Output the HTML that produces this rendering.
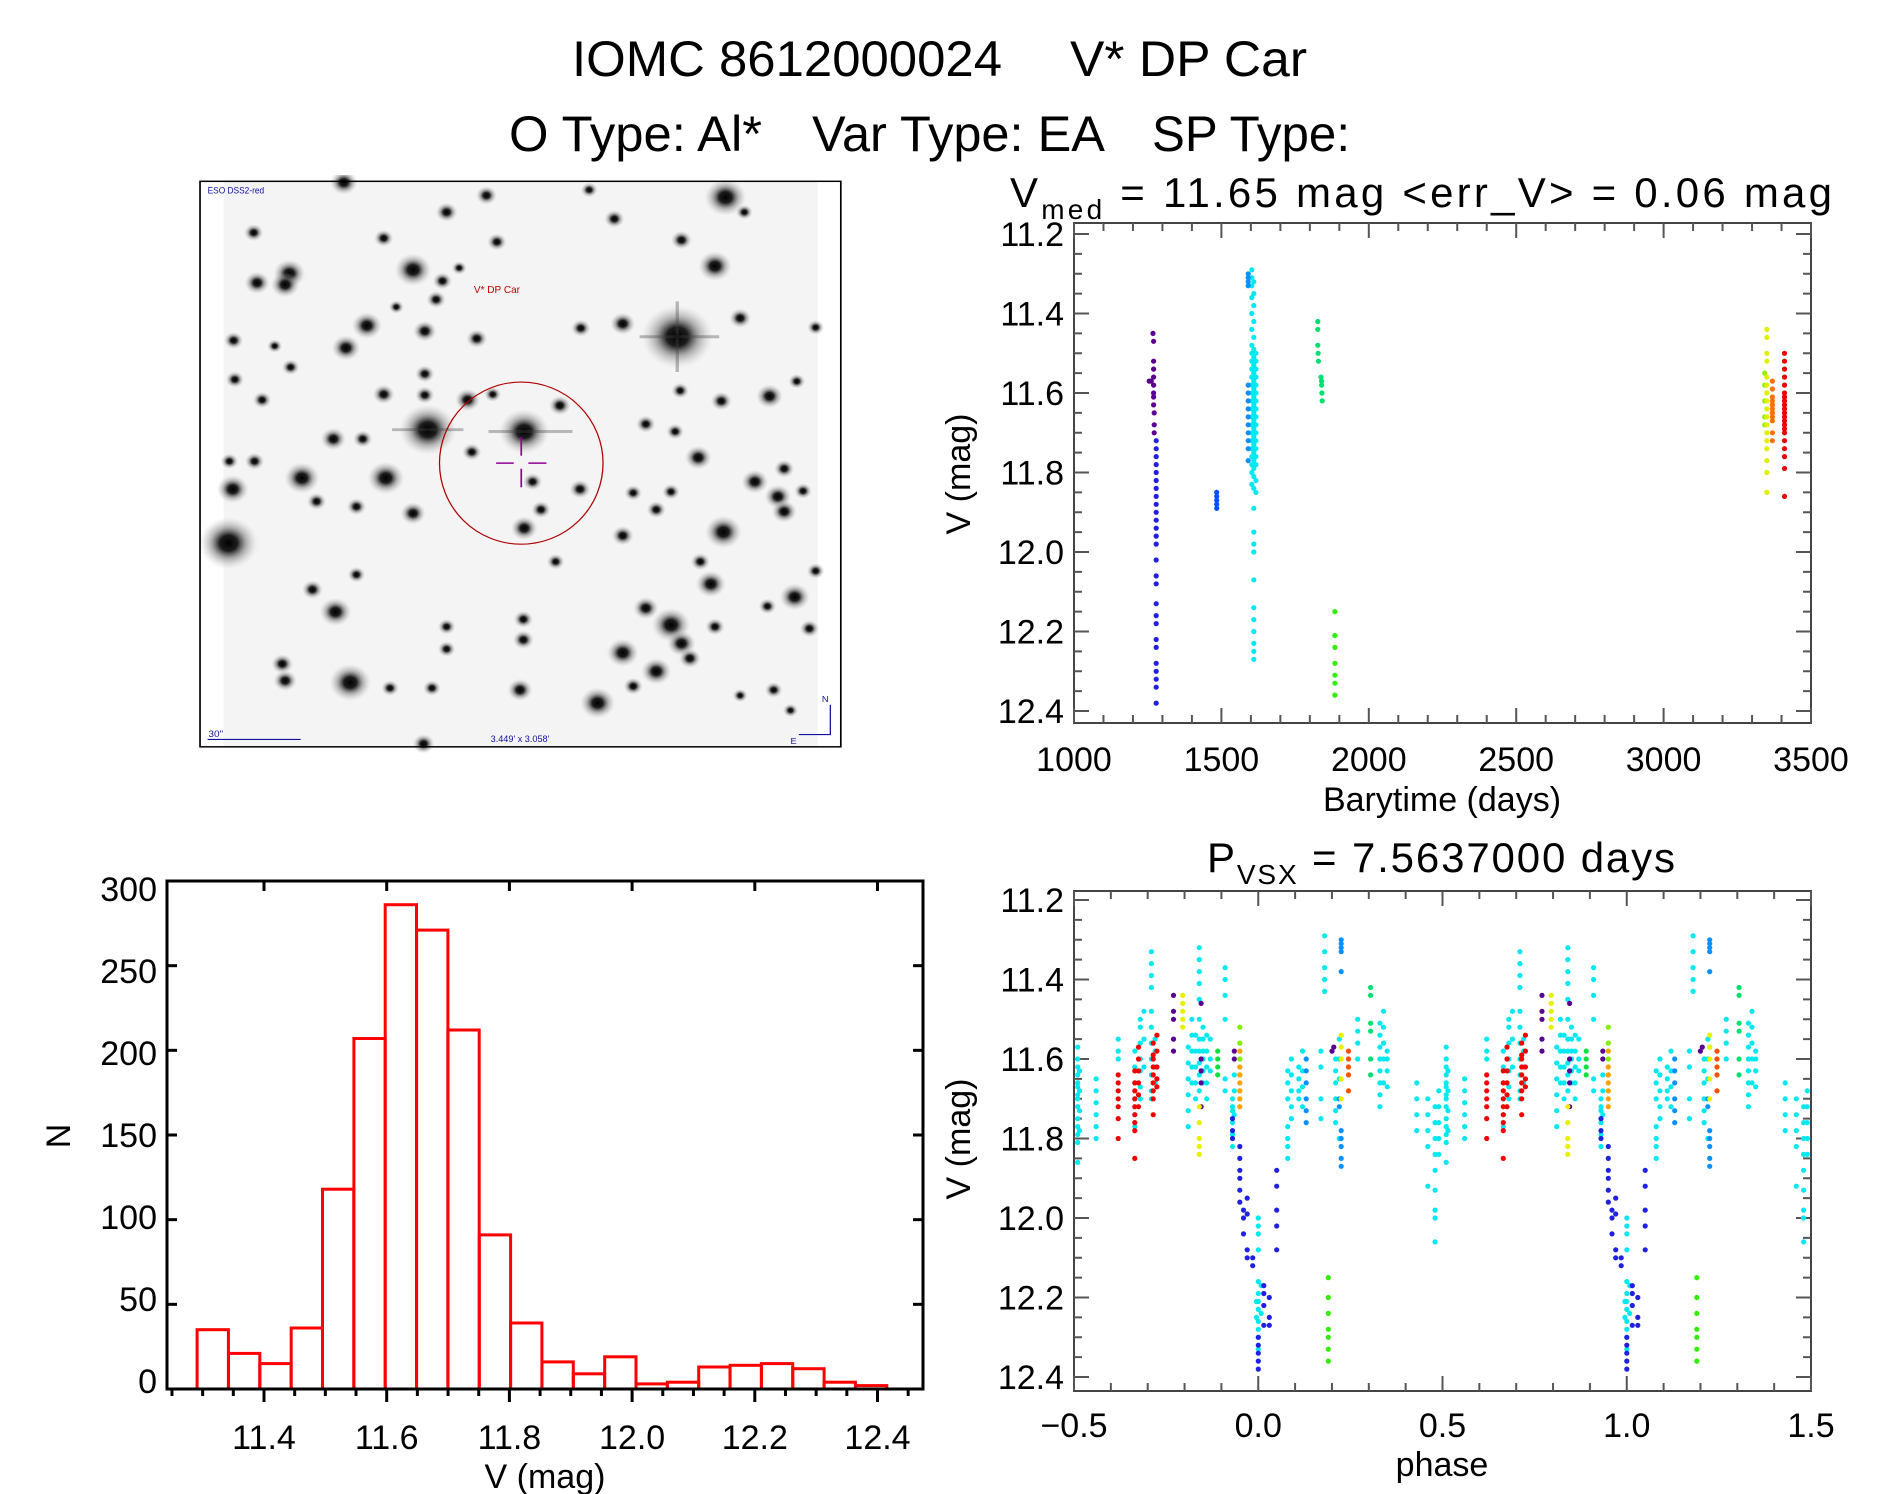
<!DOCTYPE html>
<html><head><meta charset="utf-8">
<style>
html,body{margin:0;padding:0;background:#fff;}
svg{display:block;font-family:"Liberation Sans",sans-serif;}
text{fill:#000;}
</style></head>
<body>
<svg id="fig" width="1889" height="1494" viewBox="0 0 1889 1494" xmlns="http://www.w3.org/2000/svg">
<defs>
<radialGradient id="starg">
<stop offset="0" stop-color="#000" stop-opacity="1"/>
<stop offset="0.3" stop-color="#111" stop-opacity="0.95"/>
<stop offset="0.6" stop-color="#666" stop-opacity="0.5"/>
<stop offset="1" stop-color="#bbb" stop-opacity="0"/>
</radialGradient>
<clipPath id="clipTop"><rect x="1074" y="223" width="737" height="500"/></clipPath>
<clipPath id="clipPh"><rect x="1074" y="891" width="737" height="500"/></clipPath>
</defs>

<g font-size="50">
<text x="572" y="76" textLength="430" lengthAdjust="spacingAndGlyphs">IOMC 8612000024</text>
<text x="1070" y="76" textLength="237" lengthAdjust="spacingAndGlyphs">V* DP Car</text>
<text x="509" y="151" textLength="253" lengthAdjust="spacingAndGlyphs">O Type: Al*</text>
<text x="812" y="151" textLength="293" lengthAdjust="spacingAndGlyphs">Var Type: EA</text>
<text x="1152" y="151" textLength="198" lengthAdjust="spacingAndGlyphs">SP Type:</text>
</g>

<g>
<svg id="sky" x="195" y="175" width="650" height="580" viewBox="0 0 1550 1560" preserveAspectRatio="none">
<rect x="68" y="17" width="1417" height="1521" fill="#f4f4f4"/>
<g id="stars"></g>
<rect x="12" y="17" width="1528" height="1521" fill="none" stroke="#000" stroke-width="4"/>
<ellipse cx="778" cy="775" rx="195" ry="218" fill="none" stroke="#b00000" stroke-width="3"/>
<g stroke="#900090" stroke-width="4">
<line x1="718" y1="775" x2="760" y2="775"/><line x1="795" y1="775" x2="838" y2="775"/>
<line x1="778" y1="705" x2="778" y2="755"/><line x1="778" y1="790" x2="778" y2="840"/>
</g>
<text x="665" y="318" font-size="26" style="fill:#c00000" textLength="110" lengthAdjust="spacingAndGlyphs">V* DP Car</text>
<text x="30" y="50" font-size="24" style="fill:#1010a0" textLength="135" lengthAdjust="spacingAndGlyphs">ESO DSS2-red</text>
<text x="32" y="1512" font-size="24" style="fill:#1010a0">30"</text>
<line x1="30" y1="1518" x2="252" y2="1518" stroke="#1010a0" stroke-width="3"/>
<text x="705" y="1525" font-size="24" style="fill:#1010a0" textLength="140" lengthAdjust="spacingAndGlyphs">3.449' x 3.058'</text>
<g stroke="#1010a0" stroke-width="3" fill="none">
<polyline points="1440,1505 1515,1505 1515,1425"/>
</g>
<text x="1495" y="1418" font-size="22" style="fill:#1010a0">N</text>
<text x="1420" y="1530" font-size="22" style="fill:#1010a0">E</text>
</svg>
</g>

<g id="topPlot"></g>
<g id="phPlot"></g>
<g id="histPlot"></g>
</svg>

<script>
// ---------------- Light curve data (Barytime days, V mag) ----------------
const lcPurpleT = [1255,1262,1268,1270,1270,1270,1270,1270,1270,1270,1270,1272,1272,1272];
const lcPurpleV = [11.57,11.57,11.45,11.47,11.52,11.54,11.56,11.58,11.60,11.61,11.63,11.65,11.68,11.70];
const lcBlueV = [11.72,11.74,11.76,11.78,11.80,11.82,11.84,11.86,11.88,11.90,11.92,11.94,11.96,11.98,12.02,12.06,12.08,12.13,12.16,12.18,12.22,12.24,12.28,12.30,12.32,12.34,12.38];
const lcBlueT = 1279;
const lcBlue2V = [11.85,11.86,11.87,11.88,11.89];
const lcBlue2T = 1484;
const lcSkyV = [11.30,11.31,11.32,11.33,11.58,11.60,11.62,11.64,11.66,11.68,11.70,11.72,11.74,11.77];
const lcSkyT = 1591;
const lcCyanA = [11.29,11.31,11.33,11.36,11.40,11.44,11.48,11.50,11.52,11.54,11.56,11.58,11.60,11.62,11.64,11.66,11.68,11.70,11.72,11.74,11.76,11.78,11.80,11.83];
const lcCyanB = [11.32,11.35,11.38,11.42,11.46,11.49,11.51,11.53,11.55,11.57,11.59,11.61,11.63,11.65,11.67,11.69,11.71,11.73,11.75,11.77,11.79,11.81,11.84,11.89,11.95,11.98,12.00,12.07,12.14,12.17,12.20,12.23,12.25,12.27];
const lcCyanC = [11.50,11.52,11.54,11.56,11.58,11.60,11.62,11.64,11.66,11.68,11.70,11.72,11.74,11.76,11.78,11.82,11.85];
const lcCyanT = [1603,1610,1617];
const lcGreenAT = [1827,1827,1827,1828,1829,1838,1840,1840,1841,1842];
const lcGreenAV = [11.42,11.44,11.48,11.50,11.52,11.56,11.57,11.58,11.60,11.62];
const lcGreenBV = [12.15,12.21,12.24,12.28,12.31,12.33,12.36];
const lcGreenBT = 1885;
const lcYellowV = [11.44,11.46,11.50,11.52,11.56,11.58,11.60,11.62,11.64,11.66,11.68,11.70,11.72,11.74,11.77,11.80,11.85];
const lcYellowT = 3350;
const lcYGreenV = [11.55,11.58,11.62,11.66,11.68];
const lcYGreenT = 3343;
const lcOrangeV = [11.57,11.59,11.61,11.62,11.63,11.64,11.65,11.66,11.67,11.70,11.72];
const lcOrangeT = 3369;
const lcRedV = [11.50,11.52,11.54,11.56,11.58,11.60,11.61,11.62,11.63,11.64,11.65,11.66,11.67,11.68,11.69,11.70,11.72,11.74,11.76,11.79,11.86];
const lcRedT = 3410;

// ---------------- Phase data (phase in [-0.5,0.5), V mag) ----------------
const phCyan = [
[-0.49,11.57],[-0.49,11.60],[-0.49,11.62],[-0.49,11.64],[-0.49,11.66],[-0.49,11.67],[-0.49,11.69],[-0.49,11.70],[-0.49,11.72],[-0.49,11.75],[-0.49,11.77],[-0.49,11.79],[-0.49,11.81],[-0.49,11.86],
[-0.485,11.63],[-0.485,11.68],[-0.485,11.73],[-0.485,11.78],
[-0.44,11.65],[-0.44,11.68],[-0.44,11.71],[-0.44,11.74],[-0.44,11.77],[-0.44,11.80],
[-0.38,11.55],[-0.38,11.58],[-0.38,11.60],
[-0.335,11.58],[-0.335,11.62],[-0.335,11.66],[-0.335,11.70],[-0.335,11.74],[-0.335,11.77],
[-0.32,11.50],[-0.32,11.52],[-0.32,11.56],[-0.32,11.60],[-0.32,11.63],[-0.32,11.67],[-0.32,11.70],
[-0.31,11.48],[-0.31,11.55],[-0.31,11.62],
[-0.29,11.33],[-0.29,11.36],[-0.29,11.39],[-0.29,11.42],[-0.29,11.48],[-0.29,11.52],[-0.29,11.56],[-0.29,11.60],[-0.29,11.64],[-0.29,11.68],[-0.29,11.70],
[-0.28,11.55],[-0.28,11.58],[-0.28,11.62],[-0.28,11.66],
[-0.19,11.57],[-0.19,11.61],[-0.19,11.65],[-0.19,11.69],[-0.19,11.73],[-0.19,11.77],
[-0.18,11.50],[-0.18,11.54],[-0.18,11.58],[-0.18,11.62],[-0.18,11.66],
[-0.17,11.54],[-0.17,11.58],[-0.17,11.62],[-0.17,11.66],[-0.17,11.70],
[-0.16,11.32],[-0.16,11.35],[-0.16,11.38],[-0.16,11.41],[-0.16,11.45],[-0.16,11.50],[-0.16,11.55],[-0.16,11.58],[-0.16,11.61],[-0.16,11.64],[-0.16,11.68],
[-0.15,11.52],[-0.15,11.55],[-0.15,11.58],[-0.15,11.60],[-0.15,11.63],[-0.15,11.66],
[-0.14,11.54],[-0.14,11.58],[-0.14,11.62],[-0.14,11.66],[-0.14,11.70],
[-0.13,11.55],[-0.13,11.60],[-0.13,11.63],
[-0.09,11.37],[-0.09,11.40],[-0.09,11.44],[-0.09,11.50],[-0.09,11.65],[-0.09,11.68],
[-0.07,11.70],[-0.07,11.72],[-0.07,11.73],[-0.07,11.76],[-0.07,11.79],[-0.07,11.82],
[-0.065,11.64],[-0.065,11.68],[-0.065,11.74],
[0.0,12.00],[0.0,12.02],[0.0,12.04],[0.0,12.08],[0.0,12.16],[0.0,12.19],[0.0,12.21],[0.0,12.23],[0.0,12.26],[0.0,12.28],[0.0,12.30],[0.0,12.33],
[-0.005,12.21],[-0.005,12.25],[0.008,12.17],[0.008,12.24],
[0.08,11.63],[0.08,11.66],[0.08,11.70],[0.08,11.77],[0.08,11.80],[0.08,11.82],[0.08,11.85],
[0.09,11.60],[0.09,11.64],[0.09,11.68],[0.09,11.72],[0.09,11.75],
[0.11,11.62],[0.11,11.65],[0.11,11.68],[0.11,11.70],
[0.12,11.58],[0.12,11.63],[0.12,11.67],[0.12,11.72],
[0.17,11.58],[0.17,11.62],[0.17,11.70],[0.17,11.75],
[0.18,11.29],[0.18,11.33],[0.18,11.37],[0.18,11.40],[0.18,11.43],
[0.21,11.60],[0.21,11.63],[0.21,11.66],[0.21,11.70],[0.21,11.73],[0.21,11.76],
[0.22,11.55],[0.22,11.60],[0.22,11.65],[0.22,11.80],
[0.27,11.50],[0.27,11.53],[0.27,11.56],[0.27,11.60],
[0.33,11.51],[0.33,11.54],[0.33,11.57],[0.33,11.60],[0.33,11.63],[0.33,11.66],[0.33,11.69],[0.33,11.72],
[0.34,11.48],[0.34,11.52],[0.34,11.56],[0.34,11.60],[0.34,11.66],
[0.35,11.58],[0.35,11.60],[0.35,11.63],[0.35,11.67],
[0.43,11.66],[0.43,11.70],[0.43,11.74],[0.43,11.78],
[0.46,11.70],[0.46,11.74],[0.46,11.78],[0.46,11.82],[0.46,11.92],
[0.48,11.72],[0.48,11.76],[0.48,11.80],[0.48,11.84],[0.48,11.88],[0.48,11.93],[0.48,11.98],[0.48,12.00],[0.48,12.06],
[0.49,11.68],[0.49,11.72],[0.49,11.76],[0.49,11.80],[0.49,11.84]
];
const phRed = [
[-0.38,11.64],[-0.38,11.66],[-0.38,11.68],[-0.38,11.70],[-0.38,11.72],[-0.38,11.75],[-0.38,11.80],
[-0.335,11.63],[-0.335,11.66],[-0.335,11.68],[-0.335,11.70],[-0.335,11.72],[-0.335,11.74],[-0.335,11.76],[-0.335,11.78],[-0.335,11.85],
[-0.325,11.57],[-0.325,11.60],[-0.325,11.63],[-0.325,11.66],[-0.325,11.69],[-0.325,11.72],
[-0.285,11.56],[-0.285,11.59],[-0.285,11.60],[-0.285,11.62],[-0.285,11.64],[-0.285,11.66],[-0.285,11.68],[-0.285,11.70],[-0.285,11.74],
[-0.275,11.54],[-0.275,11.58],[-0.275,11.62],[-0.275,11.65],[-0.275,11.67]
];
const phBlue = [
[-0.07,11.75],[-0.07,11.78],[-0.07,11.80],
[-0.05,11.82],[-0.05,11.85],[-0.05,11.88],[-0.05,11.90],[-0.05,11.93],[-0.05,11.96],
[-0.04,11.98],[-0.04,12.00],[-0.04,12.04],
[-0.03,11.95],[-0.03,11.99],[-0.03,12.08],[-0.03,12.10],
[-0.015,12.10],[-0.015,12.12],
[0.0,12.30],[0.0,12.32],[0.0,12.34],[0.0,12.36],[0.0,12.38],
[0.015,12.17],[0.015,12.19],[0.015,12.22],[0.015,12.27],
[0.03,12.20],[0.03,12.25],[0.03,12.27],
[0.05,11.88],[0.05,11.92],[0.05,11.98],[0.05,12.02],[0.05,12.08]
];
const phSky = [
[0.225,11.30],[0.225,11.31],[0.225,11.32],[0.225,11.33],[0.225,11.38],[0.225,11.78],[0.225,11.80],[0.225,11.82],[0.225,11.85],[0.225,11.87],
[0.13,11.60],[0.13,11.63],[0.13,11.66],[0.13,11.70],[0.13,11.73],[0.13,11.76],
[0.22,11.70],[0.22,11.72]
];
const phPurple = [
[-0.23,11.44],[-0.23,11.48],[-0.23,11.50],[-0.23,11.55],[-0.23,11.58],
[-0.155,11.46],[-0.155,11.60],[-0.155,11.63],[-0.155,11.66],[-0.155,11.72],
[-0.065,11.58],[-0.065,11.60],[0.205,11.57],[0.2,11.58]
];
const phYellow = [
[-0.205,11.44],[-0.205,11.46],[-0.205,11.48],[-0.205,11.50],[-0.205,11.52],
[-0.16,11.72],[-0.16,11.76],[-0.16,11.80],[-0.16,11.82],[-0.16,11.84],
[0.225,11.54],[0.225,11.57],[0.225,11.60],[0.225,11.65],[0.225,11.70]
];
const phGreen = [[-0.11,11.58],[-0.11,11.60],[-0.11,11.62],[-0.11,11.64]];
const phYGreen = [[-0.05,11.52],[-0.05,11.56],[-0.05,11.60],[-0.05,11.64],[-0.05,11.68]];
const phTeal = [[0.305,11.42],[0.305,11.44],[0.305,11.51],[0.305,11.53],[0.305,11.60],[0.305,11.64]];
const phLime = [[0.19,12.15],[0.19,12.20],[0.19,12.24],[0.19,12.28],[0.19,12.30],[0.19,12.33],[0.19,12.36]];
const phOrange = [[-0.05,11.58],[-0.05,11.62],[-0.05,11.64],[-0.05,11.66],[-0.05,11.68],[-0.05,11.70],[-0.05,11.72]];
const phOrRed = [[0.245,11.58],[0.245,11.60],[0.245,11.62],[0.245,11.64],[0.245,11.68]];

// ---------------- Histogram data ----------------
const histBinStart = 11.291;
const histBinWidth = 0.0511;
const histCounts = [35,21,15,36,118,207,286,271,212,91,39,16,9,19,3,4,13,14,15,12,4,2];
const histYTicks = [0,50,100,150,200,250,300];
const histXTicks = ["11.4","11.6","11.8","12.0","12.2","12.4"];
const magTicks = ["11.2","11.4","11.6","11.8","12.0","12.2","12.4"];
const timeTicks = ["1000","1500","2000","2500","3000","3500"];
const phaseTicks = ["\u22120.5","0.0","0.5","1.0","1.5"];

// ---------------- helpers ----------------
const NS = "http://www.w3.org/2000/svg";
function mk(tag, attrs, parent){ const e=document.createElementNS(NS,tag); for(const k in attrs) e.setAttribute(k,attrs[k]); if(parent) parent.appendChild(e); return e; }
function txt(parent, x, y, s, size, anchor, name){
  const t=mk('text',{x:x,y:y,'font-size':size,'text-anchor':anchor||'middle'},parent);
  t.textContent=s;
  
  
  return t;
}
function numTick(s){ return parseFloat(s.replace('\u2212','-')); }

const L=1074, R=1811;
const magTopPx=234, magBotPx=711;
function yTop(v){ return magTopPx + (v-11.2)/1.2*(magBotPx-magTopPx); }
function yPh(v){ return yTop(v)+666; }
function xTime(t){ return L + (t-1000)/2500*(R-L); }
function xPh(p){ return L + (p+0.5)/2*(R-L); }

function frameAndTicks(g, top, bot, yMap, xMajors, xMinorStep, xMin, xMax, xMap, yLabels){
  const fr=mk('rect',{x:L,y:top,width:R-L,height:bot-top,fill:'none',stroke:'#444','stroke-width':2},g);
  
  
  const tg=mk('g',{stroke:'#555','stroke-width':2},g);
  for(let v=11.2; v<=12.401; v+=0.05){
    const y=yMap(v); const major=Math.abs((v-11.2)/0.2-Math.round((v-11.2)/0.2))<0.01;
    const len=major?15:8;
    mk('line',{x1:L,y1:y,x2:L+len,y2:y},tg); mk('line',{x1:R,y1:y,x2:R-len,y2:y},tg);
  }
  for(let v=xMin; v<=xMax+1e-9; v+=xMinorStep){
    const x=xMap(v); const major=xMajors.some(m=>Math.abs(m-v)<1e-6);
    const len=major?15:8;
    mk('line',{x1:x,y1:bot,x2:x,y2:bot-len},tg); mk('line',{x1:x,y1:top,x2:x,y2:top+len},tg);
  }
  yLabels.forEach(s=>{ txt(g, 1064, yMap(parseFloat(s))+12, s, 34, 'end', 'y-tick-label'); });
}
function dots(g, pts, color, name){
  const dg=mk('g',{fill:color},g);
  
  
  pts.forEach(p=>{ mk('circle',{cx:p[0].toFixed(1),cy:p[1].toFixed(1),r:2.6},dg); });
}

// ---------------- top light-curve plot ----------------
(function(){
  const g=document.getElementById('topPlot');
  frameAndTicks(g,223,723,yTop,timeTicks.map(numTick),100,1000,3500,xTime,magTicks);
  timeTicks.forEach(s=>txt(g,xTime(numTick(s)),771,s,34,'middle','x-tick-label'));
  txt(g,1442,811,'Barytime (days)',34,'middle','x-axis-title');
  const yt=txt(g,0,0,'V (mag)',34,'middle','y-axis-title'); yt.setAttribute('transform','translate(970,474) rotate(-90)');
  const tt=mk('text',{x:1010,y:207,'font-size':42,textLength:822,lengthAdjust:'spacing'},g);
  
  
  tt.innerHTML='V<tspan font-size="28" dy="12">med</tspan><tspan dy="-12">  =  11.65  mag  &lt;err_V&gt;  =  0.06  mag</tspan>';
  const c=mk('g',{'clip-path':'url(#clipTop)'},g);
  const P=(ts,vs)=>vs.map((v,i)=>[xTime(Array.isArray(ts)?ts[i]:ts),yTop(v)]);
  dots(c,P(lcPurpleT,lcPurpleV),'#5a0090','series-purple');
  dots(c,P(lcBlueT,lcBlueV),'#2020e0','series-blue');
  dots(c,P(lcBlue2T,lcBlue2V),'#0050ff','series-blue2');
  dots(c,P(lcCyanT[0],lcCyanA),'#00e8f0','series-cyan-a');
  dots(c,P(lcCyanT[1],lcCyanB),'#00e8f0','series-cyan-b');
  dots(c,P(lcCyanT[2],lcCyanC),'#00e8f0','series-cyan-c');
  dots(c,P(lcSkyT,lcSkyV),'#0a90ff','series-sky');
  dots(c,P(lcGreenAT,lcGreenAV),'#00e070','series-green-a');
  dots(c,P(lcGreenBT,lcGreenBV),'#30f000','series-green-b');
  dots(c,P(lcYGreenT,lcYGreenV),'#90f000','series-yellowgreen');
  dots(c,P(lcYellowT,lcYellowV),'#e0f000','series-yellow');
  dots(c,P(lcOrangeT,lcOrangeV),'#ff7000','series-orange');
  dots(c,P(lcRedT,lcRedV),'#f00000','series-red');
})();

// ---------------- phase plot ----------------
(function(){
  const g=document.getElementById('phPlot');
  frameAndTicks(g,891,1391,yPh,phaseTicks.map(numTick),0.1,-0.5,1.5,xPh,magTicks);
  phaseTicks.forEach(s=>txt(g,xPh(numTick(s)),1437,s,34,'middle','x-tick-label'));
  txt(g,1442,1476,'phase',34,'middle','x-axis-title');
  const yt=txt(g,0,0,'V (mag)',34,'middle','y-axis-title'); yt.setAttribute('transform','translate(970,1139) rotate(-90)');
  const tt=mk('text',{x:1207,y:872,'font-size':42,textLength:468,lengthAdjust:'spacing'},g);
  
  
  tt.innerHTML='P<tspan font-size="28" dy="12">VSX</tspan><tspan dy="-12">  =  7.5637000  days</tspan>';
  const c=mk('g',{'clip-path':'url(#clipPh)'},g);
  const P=arr=>{ const o=[]; arr.forEach(d=>{ o.push([xPh(d[0]),yPh(d[1])]); o.push([xPh(d[0]+1),yPh(d[1])]); }); return o; };
  dots(c,P(phCyan),'#00e8f0','phase-cyan');
  dots(c,P(phSky),'#0a90ff','phase-sky');
  dots(c,P(phBlue),'#2020e0','phase-blue');
  dots(c,P(phRed),'#f00000','phase-red');
  dots(c,P(phPurple),'#5a0090','phase-purple');
  dots(c,P(phYellow),'#e8f000','phase-yellow');
  dots(c,P(phGreen),'#10e040','phase-green');
  dots(c,P(phYGreen),'#80f000','phase-yellowgreen');
  dots(c,P(phTeal),'#00e070','phase-teal');
  dots(c,P(phLime),'#30f000','phase-lime');
  dots(c,P(phOrange),'#ffa000','phase-orange');
  dots(c,P(phOrRed),'#ff5000','phase-orangered');
})();

// ---------------- histogram ----------------
(function(){
  const g=document.getElementById('histPlot');
  const HL=167,HR=923,HT=881,HB=1389;
  const xH=v=>264+(v-11.4)/0.2*122.7;
  const yH=n=>HB-n/300*(HB-HT);
  const bars=mk('g',{fill:'none',stroke:'#f00','stroke-width':3},g);
  histCounts.forEach((n,i)=>{
    const x0=xH(histBinStart+i*histBinWidth), x1=xH(histBinStart+(i+1)*histBinWidth);
    const b=mk('rect',{x:x0.toFixed(1),y:yH(n).toFixed(1),width:(x1-x0).toFixed(1),height:(HB-yH(n)).toFixed(1)},bars);
    
    
  });
  const fr=mk('rect',{x:HL,y:HT,width:HR-HL,height:HB-HT,fill:'none',stroke:'#000','stroke-width':3},g);
  
  
  const tg=mk('g',{stroke:'#000','stroke-width':3},g);
  histYTicks.forEach(n=>{ const y=yH(n); mk('line',{x1:HL,y1:y,x2:HL+10,y2:y},tg); mk('line',{x1:HR,y1:y,x2:HR-10,y2:y},tg);
    txt(g,157,y+12+(150-n)/300*(-16),String(n),34,'end','y-tick-label'); });
  for(let v=11.25; v<=12.46; v+=0.05){
    const x=xH(v); const major=Math.abs((v-11.4)/0.2-Math.round((v-11.4)/0.2))<0.01 && v>11.3;
    mk('line',{x1:x,y1:HB,x2:x,y2:HB+(major?13:7)},tg);
    if(major) mk('line',{x1:x,y1:HT,x2:x,y2:HT+10},tg);
  }
  histXTicks.forEach(s=>txt(g,xH(parseFloat(s)),1449,s,34,'middle','x-tick-label'));
  txt(g,545,1488,'V (mag)',34,'middle','x-axis-title');
  const yt=txt(g,0,0,'N',34,'middle','y-axis-title'); yt.setAttribute('transform','translate(70,1136) rotate(-90)');
})();

// ---------------- star field (decorative) ----------------
(function(){
  const S=document.getElementById('stars');
  const stars=[[1150,435,85],[555,685,68],[785,690,60],[80,990,70],[1265,60,50],[520,255,44],[1240,245,40],[255,815,42],[455,815,44],[1260,960,44],[1135,1210,46],[370,1365,50],[960,1420,42],[1020,1285,38],[1100,1335,36],[1230,1100,36],[1430,1135,36],[335,1175,38],[90,845,38],[410,405,36],[360,465,34],[1370,595,32],[1200,760,32],[1335,825,32],[1390,865,32],[1405,905,30],[520,910,30],[785,950,32],[775,1385,30],[225,265,38],[215,295,34],[148,290,30],[1020,400,30],[650,605,30],[870,620,26],[450,590,26],[330,710,30],[1075,1165,30],[1160,1260,34],[1180,1300,26],[1020,970,26],[1300,385,26],[1160,175,25],[695,55,25],[1000,118,24],[548,420,28],[672,440,25],[920,412,23],[918,845,25],[825,900,23],[805,825,23],[660,745,23],[1255,608,25],[1075,670,23],[1100,900,23],[783,1250,25],[783,1195,23],[280,1115,25],[215,1360,28],[208,1315,26],[1045,1375,23],[1465,1220,23],[1405,790,24],[1240,1215,23],[1205,1040,23],[545,1530,26],[600,100,26],[140,155,23],[450,170,23],[720,180,23],[590,285,23],[575,335,23],[92,445,23],[228,517,21],[548,535,23],[548,592,23],[400,710,23],[142,770,23],[82,770,21],[290,878,23],[385,892,23],[1045,855,21],[1135,852,21],[1450,850,21],[1157,580,21],[1145,690,21],[860,1040,21],[385,1075,21],[600,1215,21],[600,1275,21],[465,1380,21],[565,1380,21],[1365,1160,21],[1480,1065,21],[1380,1385,21],[355,20,33],[95,550,22],[160,605,22],[710,590,20],[1435,555,20],[1480,410,20],[1310,100,20],[940,40,20],[630,250,18],[480,355,18],[190,460,18],[1300,1400,18],[1420,1440,18]];
  stars.forEach(s=>{ mk('circle',{cx:s[0],cy:s[1],r:s[2],fill:'url(#starg)'},S); });
  const sp=mk('g',{stroke:'#444','stroke-width':8,opacity:0.35},S);
  mk('line',{x1:1060,y1:435,x2:1250,y2:435},sp); mk('line',{x1:1150,y1:340,x2:1150,y2:530},sp);
  mk('line',{x1:470,y1:685,x2:640,y2:685},sp); mk('line',{x1:700,y1:690,x2:900,y2:690},sp);
})();
</script>
</body></html>
